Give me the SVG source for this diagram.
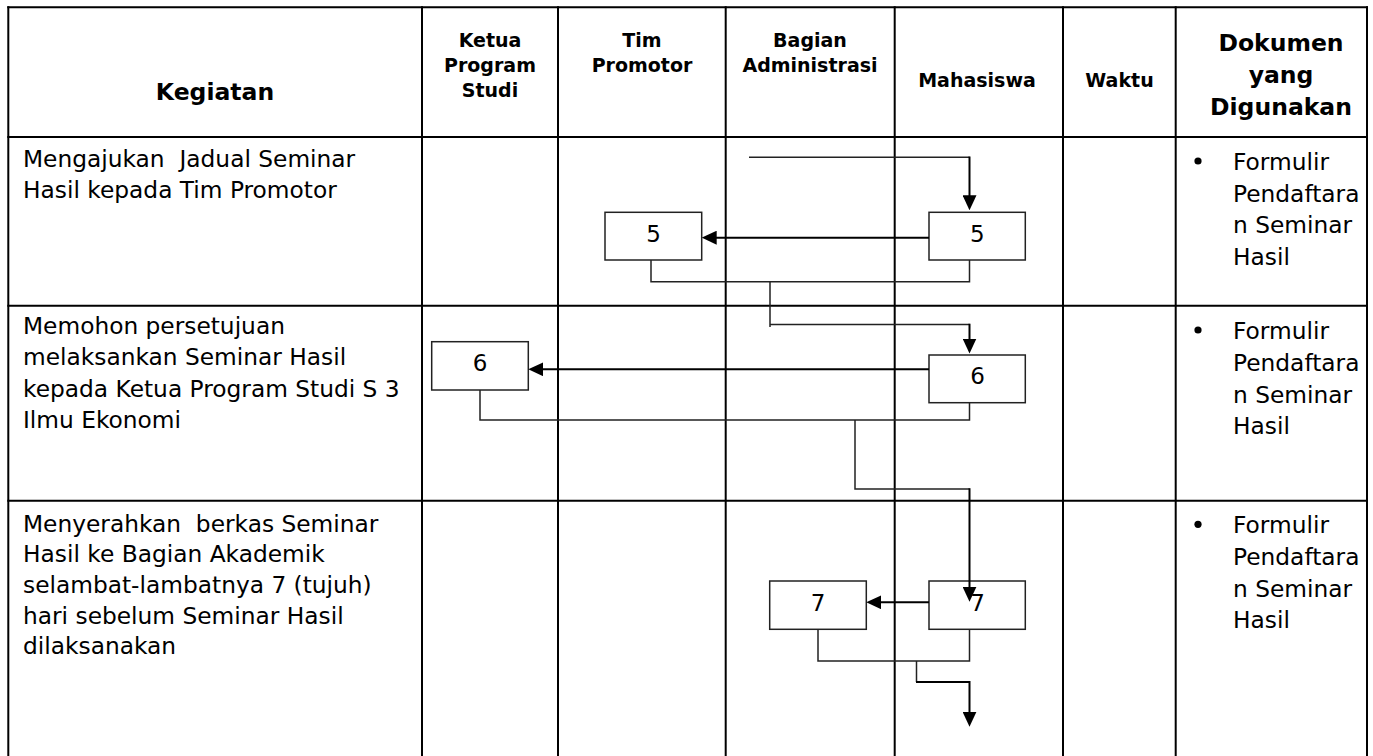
<svg xmlns="http://www.w3.org/2000/svg" width="1373" height="756" viewBox="0 0 1373 756">
<defs>
<marker id="ah" markerUnits="userSpaceOnUse" viewBox="0 0 15 14" markerWidth="15" markerHeight="14" refX="7" refY="7" orient="auto"><path d="M0,0 L15,7 L0,14 z" fill="#000"/></marker>
</defs>
<style>
.grid{stroke:#000;stroke-width:2;fill:none}
.h1{font-family:"DejaVu Sans",Verdana,sans-serif;font-weight:bold;font-size:23.5px;text-anchor:middle;fill:#000}
.h2{font-family:"DejaVu Sans",Verdana,sans-serif;font-weight:bold;font-size:19px;text-anchor:middle;fill:#000}
.t{font-family:"DejaVu Sans",Verdana,sans-serif;font-size:23.3px;white-space:pre;fill:#000}
.box{fill:#fff;stroke:#222;stroke-width:1.5}
.num{font-family:"DejaVu Sans",Verdana,sans-serif;font-size:23px;text-anchor:middle;fill:#000}
.con{fill:none;stroke:#222;stroke-width:1.5}
.arr{fill:none;stroke:#000;stroke-width:2;marker-end:url(#ah)}
</style>
<rect width="1373" height="756" fill="#fff"/>
<g id="table" class="grid">
<path d="M7.3,7.3 H1368 M7.3,137 H1368 M7.3,305.7 H1368 M7.3,500.7 H1368"/>
<path d="M8.3,6.3 V756 M422,6.3 V756 M558,6.3 V756 M725.7,6.3 V756 M894.7,6.3 V756 M1063,6.3 V756 M1175.7,6.3 V756 M1367,6.3 V756"/>
</g>
<g id="header">
<text class="h1" x="215" y="100">Kegiatan</text>
<text class="h2" x="490" y="46.5">Ketua</text>
<text class="h2" x="490" y="71.5">Program</text>
<text class="h2" x="490" y="96.5">Studi</text>
<text class="h2" x="642" y="46.5">Tim</text>
<text class="h2" x="642" y="71.5">Promotor</text>
<text class="h2" x="810" y="46.5">Bagian</text>
<text class="h2" x="810" y="71.5">Administrasi</text>
<text class="h2" x="977" y="87.3">Mahasiswa</text>
<text class="h2" x="1119.5" y="87.3">Waktu</text>
<text class="h1" x="1281" y="50.7">Dokumen</text>
<text class="h1" x="1281" y="82.5">yang</text>
<text class="h1" x="1281" y="115">Digunakan</text>
</g>
<g id="kegiatan">
<text class="t" x="23" y="167">Mengajukan  Jadual Seminar</text>
<text class="t" x="23" y="197.5">Hasil kepada Tim Promotor</text>
<text class="t" x="23" y="333.5">Memohon persetujuan</text>
<text class="t" x="23" y="365">melaksankan Seminar Hasil</text>
<text class="t" x="23" y="396.5">kepada Ketua Program Studi S 3</text>
<text class="t" x="23" y="428">Ilmu Ekonomi</text>
<text class="t" x="23" y="531.7">Menyerahkan  berkas Seminar</text>
<text class="t" x="23" y="562.3">Hasil ke Bagian Akademik</text>
<text class="t" x="23" y="592.9">selambat-lambatnya 7 (tujuh)</text>
<text class="t" x="23" y="623.5">hari sebelum Seminar Hasil</text>
<text class="t" x="23" y="654.1">dilaksanakan</text>
</g>
<g id="dokumen">
<circle cx="1198" cy="161" r="3.6"/>
<text class="t" x="1233" y="170">Formulir</text>
<text class="t" x="1233" y="201.7">Pendaftara</text>
<text class="t" x="1233" y="233.4">n Seminar</text>
<text class="t" x="1233" y="265.1">Hasil</text>
<circle cx="1198" cy="330" r="3.6"/>
<text class="t" x="1233" y="339.3">Formulir</text>
<text class="t" x="1233" y="371">Pendaftara</text>
<text class="t" x="1233" y="402.7">n Seminar</text>
<text class="t" x="1233" y="434.4">Hasil</text>
<circle cx="1198" cy="524.3" r="3.6"/>
<text class="t" x="1233" y="533.3">Formulir</text>
<text class="t" x="1233" y="565">Pendaftara</text>
<text class="t" x="1233" y="596.7">n Seminar</text>
<text class="t" x="1233" y="628.4">Hasil</text>
</g>
<g id="node-5-mhs"><rect class="box" x="929" y="212.3" width="96.3" height="47.7"/><text class="num" x="977.3" y="241.7">5</text></g>
<g id="node-5-tim"><rect class="box" x="605" y="212.3" width="96.7" height="47.7"/><text class="num" x="653.5" y="241.7">5</text></g>
<g id="node-6-mhs"><rect class="box" x="929" y="355" width="96.3" height="47.7"/><text class="num" x="977.5" y="384.3">6</text></g>
<g id="node-6-kps"><rect class="box" x="431.7" y="341.7" width="96.6" height="48.3"/><text class="num" x="480" y="371">6</text></g>
<g id="node-7-mhs"><rect class="box" x="929" y="581" width="96.3" height="48.3"/><text class="num" x="977.5" y="611">7</text></g>
<g id="node-7-adm"><rect class="box" x="769.7" y="581" width="96.6" height="48.3"/><text class="num" x="818" y="611">7</text></g>
<g id="connectors">
<path class="con" d="M749,157.3 H969.5"/>
<path class="arr" d="M969.5,156.5 V202.3"/>
<path class="arr" d="M929,237.7 H709.7"/>
<path class="con" d="M651,260 V281.7 H969.5 V260"/>
<path class="con" d="M770,281.7 V327 M770,324.5 H969.5"/>
<path class="arr" d="M969.5,323.7 V345.5"/>
<path class="arr" d="M929,369.3 H536.3"/>
<path class="con" d="M480,390 V420 H969.5 V402.7"/>
<path class="con" d="M855,420 V489 H969.5"/>
<path class="arr" d="M969.5,488.2 V593.7"/>
<path class="arr" d="M929,602.3 H874.3"/>
<path class="con" d="M818,629.3 V661 H969.5 V629.3"/>
<path class="con" d="M916.5,661 V682"/>
<path class="arr" d="M916,682 H969.5 V718.7"/>
</g>
</svg>
